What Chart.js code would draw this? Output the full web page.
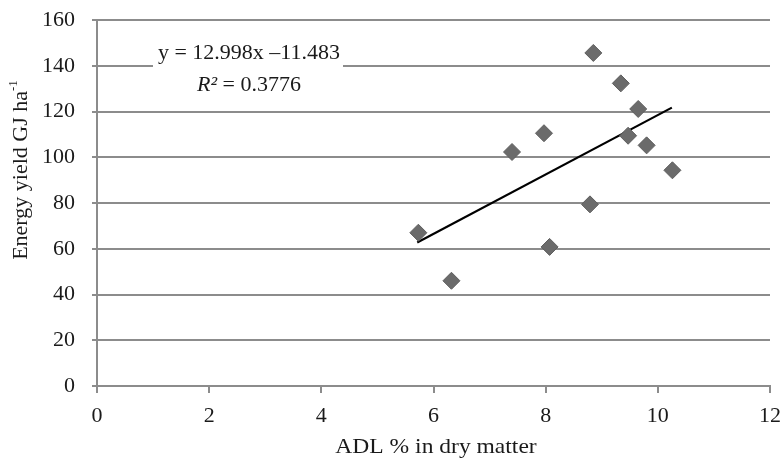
<!DOCTYPE html>
<html>
<head>
<meta charset="utf-8">
<script src="https://cdn.jsdelivr.net/npm/chart.js@4"></script>
<style>
  body { margin: 0; background: #fff; }
  #wrap { width: 784px; height: 464px; }
</style>
</head>
<body>
<div id="wrap"><canvas id="chart" width="784" height="464"></canvas></div>
<script>
const adlX = [5.73, 6.32, 7.40, 7.97, 8.07, 8.79, 8.85, 9.34, 9.47, 9.65, 9.80, 10.26];
const yieldY = [67.0, 46.0, 102.3, 110.5, 60.8, 79.4, 145.6, 132.3, 109.4, 121.1, 105.2, 94.3];
const trendX = [5.71, 10.25];
const trendY = [62.7, 121.7];
const xTicks = [0, 2, 4, 6, 8, 10, 12];
const yTicks = [0, 20, 40, 60, 80, 100, 120, 140, 160];

const FONT = "'Liberation Serif', 'Times New Roman', serif";
const GRID = "#8c8c8c";

const points = adlX.map((x, i) => ({ x: x, y: yieldY[i] }));
const trend = trendX.map((x, i) => ({ x: x, y: trendY[i] }));

// titles and the equation box are drawn by hand (superscripts)
const textPlugin = {
    id: "texts",
    afterDatasetsDraw(chart) {
        const ctx = chart.ctx;
        ctx.save();
        ctx.textBaseline = "middle";

        // equation box
        ctx.fillStyle = "#fff";
        ctx.fillRect(153, 38, 190, 62);
        ctx.fillStyle = "#1a1a1a";
        ctx.font = "22px " + FONT;
        ctx.textAlign = "center";
        ctx.fillText("y = 12.998x \u201311.483", 249, 53);

        ctx.textAlign = "left";
        const r = "R\u00b2";
        const rest = " = 0.3776";
        ctx.font = "italic 22px " + FONT;
        const wr = ctx.measureText(r).width;
        ctx.font = "22px " + FONT;
        const wrest = ctx.measureText(rest).width;
        let sx = 249 - (wr + wrest) / 2;
        ctx.font = "italic 22px " + FONT;
        ctx.fillText(r, sx, 85);
        ctx.font = "22px " + FONT;
        ctx.fillText(rest, sx + wr, 85);

        // x title
        ctx.textAlign = "center";
        ctx.save();
        ctx.translate(436, 447);
        ctx.scale(1.07, 1);
        ctx.fillText("ADL % in dry matter", 0, 0);
        ctx.restore();

        // y title
        ctx.translate(21, 170);
        ctx.rotate(-Math.PI / 2);
        const main = "Energy yield GJ ha";
        const sup = "-1";
        ctx.font = "22px " + FONT;
        const wm = ctx.measureText(main).width;
        ctx.font = "13px " + FONT;
        const ws = ctx.measureText(sup).width;
        const start = -(wm + ws) / 2;
        ctx.textAlign = "left";
        ctx.font = "22px " + FONT;
        ctx.fillText(main, start, 0);
        ctx.font = "13px " + FONT;
        ctx.fillText(sup, start + wm, -7);
        ctx.restore();
    }
};

new Chart(document.getElementById("chart"), {
    type: "scatter",
    data: {
        datasets: [
            {
                label: "Energy yield",
                data: points,
                pointStyle: "rectRot",
                pointRadius: 8.5,
                backgroundColor: "#6b6b6b",
                borderColor: "#5e5e5e",
                borderWidth: 1
            },
            {
                type: "line",
                label: "Linear trend",
                data: trend,
                borderColor: "#000",
                borderWidth: 2.2,
                pointRadius: 0,
                fill: false
            }
        ]
    },
    options: {
        responsive: false,
        animation: false,
        layout: { padding: { top: 20, right: 14, left: 0, bottom: 0 } },
        plugins: {
            legend: { display: false },
            tooltip: { enabled: false }
        },
        scales: {
            x: {
                type: "linear",
                min: 0,
                max: 12,
                afterBuildTicks(scale) { scale.ticks = xTicks.map(v => ({ value: v })); },
                afterFit(scale) {
                    scale.height = 78;
                    scale.paddingLeft = 0;
                    scale.paddingRight = 0;
                },
                grid: {
                    drawOnChartArea: false,
                    drawTicks: true,
                    tickLength: 7,
                    color: GRID,
                    lineWidth: 2
                },
                border: { color: GRID, width: 2 },
                ticks: {
                    padding: 10,
                    color: "#1a1a1a",
                    font: { family: FONT, size: 22 }
                }
            },
            y: {
                type: "linear",
                min: 0,
                max: 160,
                afterBuildTicks(scale) { scale.ticks = yTicks.map(v => ({ value: v })); },
                afterFit(scale) {
                    scale.width = 97;
                    scale.paddingTop = 0;
                    scale.paddingBottom = 0;
                },
                grid: {
                    color: GRID,
                    lineWidth: 2,
                    tickLength: 5
                },
                border: { color: GRID, width: 2 },
                ticks: {
                    padding: 17,
                    color: "#1a1a1a",
                    font: { family: FONT, size: 22 }
                }
            }
        }
    },
    plugins: [textPlugin]
});
</script>
</body>
</html>
